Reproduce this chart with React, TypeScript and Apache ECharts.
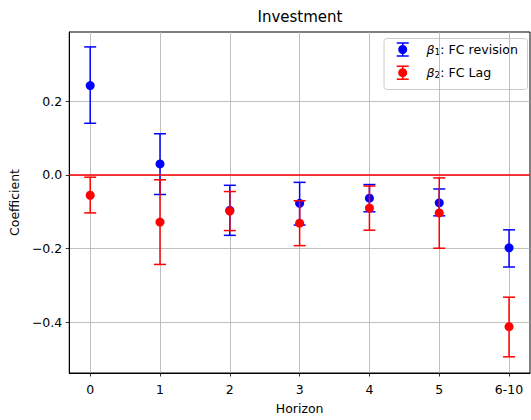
import React, { useEffect, useRef } from 'react';
import * as echarts from 'echarts';

// ---- data ----
const horizons = ['0', '1', '2', '3', '4', '5', '6-10'];
const xPositions = [0, 1, 2, 3, 4, 5, 6];

const beta1 = [0.243, 0.030, -0.096, -0.077, -0.063, -0.0755, -0.198];
const beta1Low = [0.1405, -0.053, -0.164, -0.136, -0.100, -0.111, -0.250];
const beta1High = [0.348, 0.112, -0.028, -0.020, -0.026, -0.038, -0.149];

const beta2 = [-0.055, -0.128, -0.098, -0.131, -0.090, -0.103, -0.412];
const beta2Low = [-0.103, -0.243, -0.151, -0.192, -0.150, -0.199, -0.494];
const beta2High = [-0.006, -0.013, -0.045, -0.070, -0.030, -0.008, -0.332];

const yTicks = [-0.4, -0.2, 0.0, 0.2];
const seriesNames = ['FC revision', 'FC Lag'];

const FONT = '"DejaVu Sans", Verdana, sans-serif';
const BLUE = '#0000ff';
const RED = '#ff0000';

function errorRenderer(color: string) {
  return (params: any, api: any) => {
    const x = api.value(0);
    const lo = api.value(1);
    const hi = api.value(2);
    const pLo = api.coord([x, lo]);
    const pHi = api.coord([x, hi]);
    const cap = 6;
    const style = { stroke: color, lineWidth: 1.5, fill: null };
    return {
      type: 'group',
      children: [
        { type: 'line', shape: { x1: pLo[0], y1: pLo[1], x2: pHi[0], y2: pHi[1] }, style },
        { type: 'line', shape: { x1: pLo[0] - cap, y1: pLo[1], x2: pLo[0] + cap, y2: pLo[1] }, style },
        { type: 'line', shape: { x1: pHi[0] - cap, y1: pHi[1], x2: pHi[0] + cap, y2: pHi[1] }, style },
      ],
    };
  };
}

function legendIcon(cx: number, cy: number, color: string) {
  const style = { stroke: color, lineWidth: 1.5, fill: null };
  return [
    { type: 'line', shape: { x1: cx, y1: cy - 6.5, x2: cx, y2: cy + 6.5 }, style },
    { type: 'line', shape: { x1: cx - 6, y1: cy - 6.5, x2: cx + 6, y2: cy - 6.5 }, style },
    { type: 'line', shape: { x1: cx - 6, y1: cy + 6.5, x2: cx + 6, y2: cy + 6.5 }, style },
    { type: 'circle', shape: { cx, cy, r: 4.5 }, style: { fill: color } },
  ];
}

const legendRich = {
  b: { fontFamily: FONT, fontSize: 12.6, fontStyle: 'italic', fill: '#000', lineHeight: 14 },
  s: { fontFamily: FONT, fontSize: 9, fill: '#000', lineHeight: 9, verticalAlign: 'bottom' },
  t: { fontFamily: FONT, fontSize: 12.6, fill: '#000', lineHeight: 14 },
};

export default function App() {
  const ref = useRef<HTMLDivElement>(null);
  useEffect(() => {
    if (!ref.current) return;
    const chart = echarts.init(ref.current, undefined, { renderer: 'svg' });
    const fmtY = (v: number) => v.toFixed(1).replace('-', '\u2212');
    const option: any = {
      animation: false,
      backgroundColor: '#ffffff',
      textStyle: { fontFamily: FONT },
      title: {
        text: 'Investment',
        left: 300,
        textAlign: 'center',
        top: 9,
        padding: 0,
        textStyle: { fontFamily: FONT, fontSize: 15, fontWeight: 'normal', color: '#000' },
      },
      grid: {
        left: 69,
        right: 1,
        top: 32,
        bottom: 42,
        show: true,
        borderColor: '#000',
        borderWidth: 1,
        backgroundColor: 'transparent',
      },
      xAxis: {
        type: 'value',
        min: -0.3,
        max: 6.3,
        name: 'Horizon',
        nameLocation: 'middle',
        nameGap: 29,
        nameTextStyle: { fontFamily: FONT, fontSize: 12.5, color: '#000' },
        axisLine: { show: true, onZero: false, lineStyle: { color: '#000', width: 1 } },
        axisTick: { show: true, inside: false, length: 3.5, customValues: xPositions, lineStyle: { color: '#000', width: 0.8 } },
        axisLabel: {
          customValues: xPositions,
          margin: 10,
          fontFamily: FONT,
          fontSize: 12.5,
          color: '#000',
          formatter: (v: number) => horizons[Math.round(v)] ?? '',
        },
        splitLine: { show: true, lineStyle: { color: '#b0b0b0', width: 0.8 } },
      },
      yAxis: {
        type: 'value',
        min: -0.538,
        max: 0.3885,
        name: 'Coefficient',
        nameLocation: 'middle',
        nameGap: 46,
        nameTextStyle: { fontFamily: FONT, fontSize: 12.5, color: '#000' },
        axisLine: { show: true, onZero: false, lineStyle: { color: '#000', width: 1 } },
        axisTick: { show: true, inside: false, length: 3.5, customValues: yTicks, lineStyle: { color: '#000', width: 0.8 } },
        axisLabel: {
          customValues: yTicks,
          margin: 7,
          fontFamily: FONT,
          fontSize: 12.5,
          color: '#000',
          formatter: fmtY,
        },
        splitLine: { show: true, lineStyle: { color: '#b0b0b0', width: 0.8 } },
      },
      series: [
        {
          type: 'custom',
          name: seriesNames[0] + ' error',
          renderItem: errorRenderer(BLUE),
          encode: { x: 0, y: [1, 2] },
          data: xPositions.map((x, i) => [x, beta1Low[i], beta1High[i]]),
          z: 2,
        },
        {
          type: 'scatter',
          name: seriesNames[0],
          symbol: 'circle',
          symbolSize: 9,
          itemStyle: { color: BLUE, opacity: 1 },
          data: xPositions.map((x, i) => [x, beta1[i]]),
          z: 2,
        },
        {
          type: 'custom',
          name: seriesNames[1] + ' error',
          renderItem: errorRenderer(RED),
          encode: { x: 0, y: [1, 2] },
          data: xPositions.map((x, i) => [x, beta2Low[i], beta2High[i]]),
          z: 3,
        },
        {
          type: 'scatter',
          name: seriesNames[1],
          symbol: 'circle',
          symbolSize: 9,
          itemStyle: { color: RED, opacity: 1 },
          data: xPositions.map((x, i) => [x, beta2[i]]),
          z: 3,
          markLine: {
            silent: true,
            symbol: ['none', 'none'],
            label: { show: false },
            lineStyle: { color: RED, width: 1.5, type: 'solid' },
            data: [{ yAxis: 0 }],
            z: 5,
          },
        },
      ],
      graphic: [
        {
          type: 'group',
          z: 10,
          children: [
            {
              type: 'rect',
              shape: { x: 384, y: 38.5, width: 143.5, height: 51, r: 3 },
              style: { fill: 'rgba(255,255,255,0.8)', stroke: '#cccccc', lineWidth: 1 },
            },
            ...legendIcon(402.7, 49.5, BLUE),
            ...legendIcon(402.7, 72.7, RED),
            {
              type: 'text',
              x: 426.5,
              y: 49.5,
              style: {
                text: '{b|\u03B2}{s|1}{t|: ' + seriesNames[0] + '}',
                rich: legendRich,
                verticalAlign: 'middle',
                align: 'left',
              },
            },
            {
              type: 'text',
              x: 426.5,
              y: 72.7,
              style: {
                text: '{b|\u03B2}{s|2}{t|: ' + seriesNames[1] + '}',
                rich: legendRich,
                verticalAlign: 'middle',
                align: 'left',
              },
            },
          ],
        },
      ],
    };
    chart.setOption(option);
    return () => chart.dispose();
  }, []);
  return (
    <div
      ref={ref}
      style={{ position: 'fixed', left: 0, top: 0, width: 531, height: 420 }}
    />
  );
}
